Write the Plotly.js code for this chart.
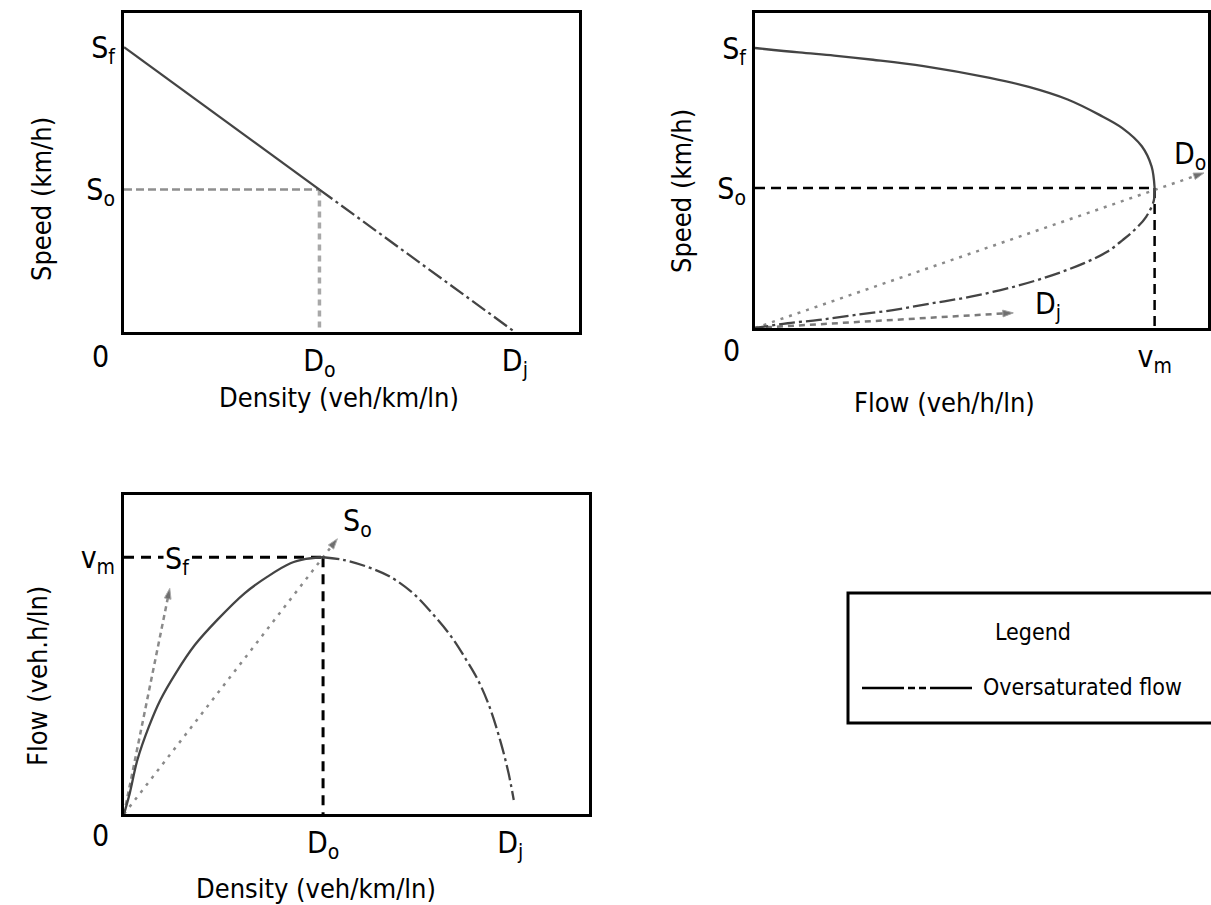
<!DOCTYPE html>
<html>
<head>
<meta charset="utf-8">
<script src="https://cdn.plot.ly/plotly-3.0.1.min.js"></script>
<style>html,body{margin:0;padding:0;background:#fff;}#chart{width:1211px;height:905px;}</style>
</head>
<body>
<div id="chart"></div>
<script>
// ---- key values (symbolic units) ----
const Sf = 100;     // free-flow speed
const So = 50;      // speed at capacity
const Do = 50;      // density at capacity
const Dj = 100;     // jam density
const Vm = 2500;    // maximum flow
const p3DjTick = 97;

// ---- Panel 1: speed vs density ----
const p1DensityUndersat = [0, 50];
const p1SpeedUndersat = [100, 50];
const p1DensityOversat = [50, 100];
const p1SpeedOversat = [50, 0];

// ---- Panel 2: speed vs flow ----
const p2FlowUpper = [0, 275, 495, 738, 1055, 1469, 1713, 1956, 2152, 2298, 2420, 2481, 2500];
const p2SpeedUpper = [100, 98.4, 97.3, 95.8, 93.5, 89.3, 86.1, 81.6, 76.2, 71.4, 64.9, 57.7, 50];
const p2FlowLower = [2500, 2495, 2447, 2374, 2300, 2203, 2056, 1862, 1618, 1350, 1106, 863, 619, 400, 205, 58, 0];
const p2SpeedLower = [50, 45.5, 39.7, 35.0, 31.4, 27.2, 23.1, 18.9, 14.7, 11.2, 8.8, 6.4, 4.6, 2.9, 1.7, 0.5, 0];
const p2RayDoFlow = [0, 2809];
const p2RayDoSpeed = [0, 55.4];
const p2RayDjFlow = [0, 1616];
const p2RayDjSpeed = [0, 5.4];

// ---- Panel 3: flow vs density ----
const p3DensityUndersat = [0, 1.44, 3.36, 6.25, 9.13, 12.98, 17.78, 23.55, 30.28, 36.05, 41.82, 45.7, 50];
const p3FlowUndersat = [0, 201, 526, 850, 1110, 1370, 1645, 1895, 2149, 2311, 2441, 2483, 2500];
const p3DensityOversat = [50, 55.3, 61.0, 66.8, 72.6, 77.4, 82.2, 86.0, 88.9, 91.8, 94.7, 96.6, 97.9];
const p3FlowOversat = [2500, 2473, 2408, 2311, 2149, 1954, 1727, 1499, 1305, 1045, 688, 396, 136];
const p3RaySfDensity = [0, 11.5];
const p3RaySfFlow = [0, 2197];
const p3RaySoDensity = [0, 53.6];
const p3RaySoFlow = [0, 2680];

// ---- labels ----
const tickDo = 'D<sub>o</sub>', tickDj = 'D<sub>j</sub>';
const tickSo = 'S<sub>o</sub>', tickSf = 'S<sub>f</sub>';
const tickVm = 'v<sub>m</sub>';

const FONT = '"DejaVu Sans Condensed", "Liberation Sans Narrow", sans-serif';
const W = 1211, H = 905;
const px = v => v / W;
const py = v => 1 - v / H;

const CURVE = '#444';
const OVERDASH = '16px,4px,3px,4px';

function line(x, y, ax, color, width, dash, extra) {
  return Object.assign({
    type: 'scatter', mode: 'lines', x: x, y: y,
    xaxis: 'x' + ax, yaxis: 'y' + ax,
    line: {color: color, width: width, dash: dash},
    hoverinfo: 'skip', showlegend: false, cliponaxis: false
  }, extra || {});
}
function curve(x, y, ax, dash) {
  const t = line(x, y, ax, CURVE, 2.3, dash);
  t.line.shape = 'spline';
  t.line.smoothing = 1;
  return t;
}
function ray(x, y, ax, color, width, dash) {
  return line(x, y, ax, color, width, dash, {
    mode: 'lines+markers',
    marker: {symbol: 'arrow', angleref: 'previous', size: [0, 11], color: '#333'}
  });
}

const traces = [
  // Panel 1
  line([0, Do], [So, So], '', '#8f8f8f', 2.5, '8px,4px'),
  line([Do, Do], [So, 0], '', '#a8a8a8', 3.5, '6px,5px'),
  line(p1DensityUndersat, p1SpeedUndersat, '', CURVE, 2.3, 'solid'),
  line(p1DensityOversat, p1SpeedOversat, '', CURVE, 2.3, OVERDASH),
  // Panel 2
  line([0, Vm], [So, So], '2', '#000', 2.5, '10px,6px'),
  line([Vm, Vm], [So, 0], '2', '#000', 2.5, '10px,6px'),
  ray(p2RayDoFlow, p2RayDoSpeed, '2', '#8a8a8a', 2.5, '3px,6px'),
  ray(p2RayDjFlow, p2RayDjSpeed, '2', '#7a7a7a', 2.5, '6px,5px'),
  curve(p2FlowUpper, p2SpeedUpper, '2', 'solid'),
  curve(p2FlowLower, p2SpeedLower, '2', OVERDASH),
  // Panel 3
  line([0, Do], [Vm, Vm], '3', '#000', 3, '10px,7px'),
  line([Do, Do], [Vm, 0], '3', '#000', 3, '10px,7px'),
  ray(p3RaySfDensity, p3RaySfFlow, '3', '#8a8a8a', 2.5, '5px,4px'),
  ray(p3RaySoDensity, p3RaySoFlow, '3', '#8a8a8a', 2.5, '3px,6px'),
  curve(p3DensityUndersat, p3FlowUndersat, '3', 'solid'),
  curve(p3DensityOversat, p3FlowOversat, '3', OVERDASH)
];

const KS = 30;  // key-label font size
function axis(domain, range, tickvals, ticktext, anchor) {
  return {
    domain: domain, range: range, anchor: anchor,
    showgrid: false, zeroline: false,
    showline: true, mirror: true, linecolor: '#000', linewidth: 3,
    ticks: '', tickvals: tickvals, ticktext: ticktext,
    tickfont: {family: FONT, size: KS, color: '#000'},
    ticklabelstandoff: 0, fixedrange: true
  };
}

function label(text, x, y, size, opts) {
  return Object.assign({
    text: text, xref: 'paper', yref: 'paper', x: px(x), y: py(y),
    xanchor: 'center', yanchor: 'middle', showarrow: false,
    font: {family: FONT, size: size, color: '#000'}
  }, opts || {});
}

const TS = 27;
const layout = {
  width: W, height: H,
  margin: {l: 0, r: 0, t: 0, b: 0},
  paper_bgcolor: '#fff', plot_bgcolor: '#fff',
  showlegend: false,
  xaxis: axis([px(124), px(579)], [0, 116.4], [Do, Dj], [tickDo, tickDj], 'y'),
  yaxis: axis([py(332), py(13)], [0, 112], [So, Sf], [tickSo, tickSf], 'x'),
  xaxis2: axis([px(755), px(1208)], [0, 2834], [Vm], [tickVm], 'y2'),
  yaxis2: axis([py(328), py(13)], [0, 112.5], [So, Sf], [tickSo, tickSf], 'x2'),
  xaxis3: axis([px(124), px(589)], [0, 116.8], [Do, p3DjTick], [tickDo, tickDj], 'y3'),
  yaxis3: axis([py(814), py(495)], [0, 3106], [Vm], [tickVm], 'x3'),
  annotations: [
    label('Speed (km/h)', 42, 199, TS, {textangle: -90}),
    label('Density (veh/km/ln)', 339, 398, TS),
    label('0', 100, 356, KS),
    label('Speed (km/h)', 681, 191, TS, {textangle: -90}),
    label('Flow (veh/h/ln)', 944, 402, TS),
    label('0', 731, 350, KS),
    label(tickDo, 1190, 155, KS),
    label(tickDj, 1048, 305, KS),
    label('Flow (veh.h/ln)', 37, 676, TS, {textangle: -90}),
    label('Density (veh/km/ln)', 316, 888, TS),
    label('0', 100, 835, KS),
    label(tickSf, 177, 560, KS, {bgcolor: '#fff'}),
    label(tickSo, 357, 522, KS),
    label('Legend', 1033, 632, 23),
    label('Oversaturated flow', 1082, 687, 23)
  ],
  shapes: [
    {type: 'rect', xref: 'paper', yref: 'paper', x0: px(848), x1: px(1222), y0: py(723), y1: py(593),
     line: {color: '#000', width: 3}, fillcolor: 'rgba(0,0,0,0)'},
    {type: 'line', xref: 'paper', yref: 'paper', x0: px(862), x1: px(972), y0: py(688), y1: py(688),
     line: {color: '#000', width: 2.5, dash: '42px,4px,7px,4px,7px,4px,42px'}}
  ]
};

Plotly.newPlot('chart', traces, layout, {staticPlot: true, displayModeBar: false});
</script>
</body>
</html>
